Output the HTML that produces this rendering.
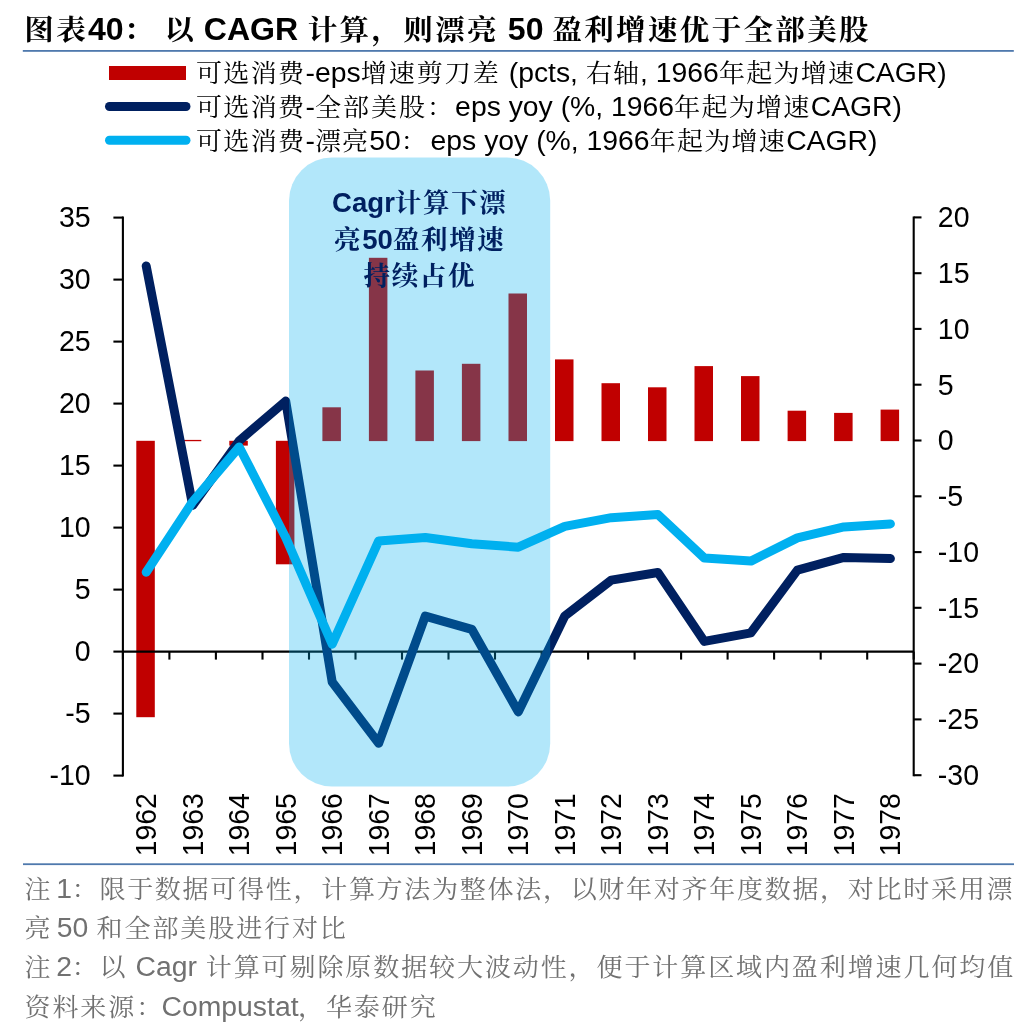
<!DOCTYPE html>
<html lang="zh-CN"><head><meta charset="utf-8"><title>图表40</title>
<style>
html,body{margin:0;padding:0;background:#fff;}
body{width:1036px;height:1036px;overflow:hidden;}
svg{display:block;font-family:"Liberation Sans", "Noto Serif CJK SC", sans-serif;}
</style></head><body>
<svg width="1036" height="1036" viewBox="0 0 1036 1036">
<rect width="1036" height="1036" fill="#fff"/>
<text transform="translate(24.30,39.5) scale(1.048,1)" fill="#000" font-weight="bold" xml:space="preserve"><tspan x="0.00" font-size="28.2" letter-spacing="2.20">图表</tspan><tspan x="60.80" font-size="30.6">40</tspan><tspan x="94.84" font-size="28.2" letter-spacing="2.20">：</tspan><tspan x="125.24" font-size="30.6"> </tspan><tspan x="133.74" font-size="28.2" letter-spacing="2.20">以</tspan><tspan x="162.79" font-size="30.6"> CAGR </tspan><tspan x="270.47" font-size="28.2" letter-spacing="2.20">计算，则漂亮</tspan><tspan x="452.87" font-size="30.6"> 50 </tspan><tspan x="503.91" font-size="28.2" letter-spacing="2.20">盈利增速优于全部美股</tspan></text>
<rect x="22.8" y="50" width="991" height="1.8" fill="#4f79ad"/>
<rect x="109" y="66" width="77" height="14" fill="#c00000"/>
<line x1="109.5" y1="106.5" x2="186" y2="106.5" stroke="#002060" stroke-width="9" stroke-linecap="round"/>
<line x1="109.5" y1="140.3" x2="186" y2="140.3" stroke="#00b0f0" stroke-width="9" stroke-linecap="round"/>
<text transform="translate(195.90,82) scale(1.05,1)" fill="#000" xml:space="preserve"><tspan x="0.00" font-size="24.8" letter-spacing="1.30">可选消费</tspan><tspan x="104.40" font-size="27">-eps</tspan><tspan x="156.92" font-size="24.8" letter-spacing="1.90">增速剪刀差</tspan><tspan x="290.42" font-size="27"> (pcts, </tspan><tspan x="371.44" font-size="24.8" letter-spacing="1.00">右轴</tspan><tspan x="423.04" font-size="27">, 1966</tspan><tspan x="498.10" font-size="24.8" letter-spacing="1.20">年起为增速</tspan><tspan x="628.10" font-size="27">CAGR)</tspan></text>
<text transform="translate(195.90,116) scale(1.05,1)" fill="#000" xml:space="preserve"><tspan x="0.00" font-size="24.8" letter-spacing="1.30">可选消费</tspan><tspan x="104.40" font-size="27">-</tspan><tspan x="113.39" font-size="24.8" letter-spacing="1.90">全部美股：</tspan><tspan x="246.89" font-size="27">eps yoy (%, 1966</tspan><tspan x="455.51" font-size="24.8" letter-spacing="1.20">年起为增速</tspan><tspan x="585.51" font-size="27">CAGR)</tspan></text>
<text transform="translate(195.90,150) scale(1.05,1)" fill="#000" xml:space="preserve"><tspan x="0.00" font-size="24.8" letter-spacing="1.30">可选消费</tspan><tspan x="104.40" font-size="27">-</tspan><tspan x="113.39" font-size="24.8" letter-spacing="1.00">漂亮</tspan><tspan x="164.99" font-size="27">50</tspan><tspan x="195.02" font-size="24.8" letter-spacing="3.70">：</tspan><tspan x="223.52" font-size="27">eps yoy (%, 1966</tspan><tspan x="432.14" font-size="24.8" letter-spacing="1.20">年起为增速</tspan><tspan x="562.14" font-size="27">CAGR)</tspan></text>
<rect x="136.3" y="440.8" width="18.5" height="276.4" fill="#c00000"/>
<rect x="182.8" y="439.9" width="18.5" height="1.3" fill="#c00000"/>
<rect x="229.3" y="440.8" width="18.5" height="4.8" fill="#c00000"/>
<rect x="275.9" y="440.8" width="18.5" height="123.5" fill="#c00000"/>
<rect x="322.4" y="407.3" width="18.5" height="33.8" fill="#c00000"/>
<rect x="368.9" y="257.8" width="18.5" height="183.3" fill="#c00000"/>
<rect x="415.4" y="370.5" width="18.5" height="70.6" fill="#c00000"/>
<rect x="461.9" y="363.8" width="18.5" height="77.3" fill="#c00000"/>
<rect x="508.5" y="293.5" width="18.5" height="147.6" fill="#c00000"/>
<rect x="555.0" y="359.4" width="18.5" height="81.7" fill="#c00000"/>
<rect x="601.5" y="383.2" width="18.5" height="57.9" fill="#c00000"/>
<rect x="648.0" y="387.3" width="18.5" height="53.8" fill="#c00000"/>
<rect x="694.5" y="366.1" width="18.5" height="75.0" fill="#c00000"/>
<rect x="741.0" y="376.1" width="18.5" height="65.0" fill="#c00000"/>
<rect x="787.6" y="410.7" width="18.5" height="30.4" fill="#c00000"/>
<rect x="834.1" y="412.9" width="18.5" height="28.2" fill="#c00000"/>
<rect x="880.6" y="409.6" width="18.5" height="31.5" fill="#c00000"/>
<g stroke="#000" stroke-width="2.1" fill="none">
<line x1="122.9" y1="216.60000000000002" x2="122.9" y2="776.6"/>
<line x1="913.7" y1="216.38" x2="913.7" y2="776.1800000000001"/>
<line x1="113.4" y1="217.6" x2="122.9" y2="217.6"/>
<line x1="113.4" y1="279.6" x2="122.9" y2="279.6"/>
<line x1="113.4" y1="341.6" x2="122.9" y2="341.6"/>
<line x1="113.4" y1="403.6" x2="122.9" y2="403.6"/>
<line x1="113.4" y1="465.6" x2="122.9" y2="465.6"/>
<line x1="113.4" y1="527.6" x2="122.9" y2="527.6"/>
<line x1="113.4" y1="589.6" x2="122.9" y2="589.6"/>
<line x1="113.4" y1="651.6" x2="122.9" y2="651.6"/>
<line x1="113.4" y1="713.6" x2="122.9" y2="713.6"/>
<line x1="113.4" y1="775.6" x2="122.9" y2="775.6"/>
<line x1="913.7" y1="217.4" x2="921.5" y2="217.4"/>
<line x1="913.7" y1="273.2" x2="921.5" y2="273.2"/>
<line x1="913.7" y1="328.9" x2="921.5" y2="328.9"/>
<line x1="913.7" y1="384.7" x2="921.5" y2="384.7"/>
<line x1="913.7" y1="440.5" x2="921.5" y2="440.5"/>
<line x1="913.7" y1="496.3" x2="921.5" y2="496.3"/>
<line x1="913.7" y1="552.1" x2="921.5" y2="552.1"/>
<line x1="913.7" y1="607.8" x2="921.5" y2="607.8"/>
<line x1="913.7" y1="663.6" x2="921.5" y2="663.6"/>
<line x1="913.7" y1="719.4" x2="921.5" y2="719.4"/>
<line x1="913.7" y1="775.2" x2="921.5" y2="775.2"/>
<line x1="122.9" y1="651.6" x2="913.7" y2="651.6"/>
<line x1="122.9" y1="651.6" x2="122.9" y2="659.6"/>
<line x1="169.4" y1="651.6" x2="169.4" y2="659.6"/>
<line x1="215.9" y1="651.6" x2="215.9" y2="659.6"/>
<line x1="262.5" y1="651.6" x2="262.5" y2="659.6"/>
<line x1="309.0" y1="651.6" x2="309.0" y2="659.6"/>
<line x1="355.5" y1="651.6" x2="355.5" y2="659.6"/>
<line x1="402.0" y1="651.6" x2="402.0" y2="659.6"/>
<line x1="448.5" y1="651.6" x2="448.5" y2="659.6"/>
<line x1="495.0" y1="651.6" x2="495.0" y2="659.6"/>
<line x1="541.6" y1="651.6" x2="541.6" y2="659.6"/>
<line x1="588.1" y1="651.6" x2="588.1" y2="659.6"/>
<line x1="634.6" y1="651.6" x2="634.6" y2="659.6"/>
<line x1="681.1" y1="651.6" x2="681.1" y2="659.6"/>
<line x1="727.6" y1="651.6" x2="727.6" y2="659.6"/>
<line x1="774.1" y1="651.6" x2="774.1" y2="659.6"/>
<line x1="820.7" y1="651.6" x2="820.7" y2="659.6"/>
<line x1="867.2" y1="651.6" x2="867.2" y2="659.6"/>
<line x1="913.7" y1="651.6" x2="913.7" y2="659.6"/>
</g>
<polyline points="146.2,266.0 192.7,505.3 239.2,440.8 285.7,401.1 332.2,682.1 378.7,743.2 425.3,616.1 471.8,629.3 518.3,711.9 564.8,616.0 611.3,580.1 657.9,572.5 704.4,641.4 750.9,632.8 797.4,570.1 843.9,557.4 890.4,558.6" fill="none" stroke="#002060" stroke-width="9" stroke-linecap="round" stroke-linejoin="round"/>
<polyline points="146.2,572.2 192.7,501.6 239.2,447.0 285.7,537.5 332.2,644.2 378.7,540.9 425.3,537.5 471.8,543.7 518.3,547.2 564.8,526.4 611.3,517.7 657.9,514.5 704.4,558.1 750.9,561.1 797.4,537.9 843.9,526.9 890.4,523.9" fill="none" stroke="#00b0f0" stroke-width="9" stroke-linecap="round" stroke-linejoin="round"/>
<text transform="translate(90.6,227.4) scale(0.99,1)" font-size="28.8" fill="#000" text-anchor="end">35</text>
<text transform="translate(90.6,289.4) scale(0.99,1)" font-size="28.8" fill="#000" text-anchor="end">30</text>
<text transform="translate(90.6,351.4) scale(0.99,1)" font-size="28.8" fill="#000" text-anchor="end">25</text>
<text transform="translate(90.6,413.4) scale(0.99,1)" font-size="28.8" fill="#000" text-anchor="end">20</text>
<text transform="translate(90.6,475.4) scale(0.99,1)" font-size="28.8" fill="#000" text-anchor="end">15</text>
<text transform="translate(90.6,537.4) scale(0.99,1)" font-size="28.8" fill="#000" text-anchor="end">10</text>
<text transform="translate(90.6,599.4) scale(0.99,1)" font-size="28.8" fill="#000" text-anchor="end">5</text>
<text transform="translate(90.6,661.4) scale(0.99,1)" font-size="28.8" fill="#000" text-anchor="end">0</text>
<text transform="translate(90.6,723.4) scale(0.99,1)" font-size="28.8" fill="#000" text-anchor="end">-5</text>
<text transform="translate(90.6,785.4) scale(0.99,1)" font-size="28.8" fill="#000" text-anchor="end">-10</text>
<text transform="translate(937.8,227.2) scale(0.99,1)" font-size="28.8" fill="#000">20</text>
<text transform="translate(937.8,283.0) scale(0.99,1)" font-size="28.8" fill="#000">15</text>
<text transform="translate(937.8,338.7) scale(0.99,1)" font-size="28.8" fill="#000">10</text>
<text transform="translate(937.8,394.5) scale(0.99,1)" font-size="28.8" fill="#000">5</text>
<text transform="translate(937.8,450.3) scale(0.99,1)" font-size="28.8" fill="#000">0</text>
<text transform="translate(937.8,506.1) scale(0.99,1)" font-size="28.8" fill="#000">-5</text>
<text transform="translate(937.8,561.9) scale(0.99,1)" font-size="28.8" fill="#000">-10</text>
<text transform="translate(937.8,617.6) scale(0.99,1)" font-size="28.8" fill="#000">-15</text>
<text transform="translate(937.8,673.4) scale(0.99,1)" font-size="28.8" fill="#000">-20</text>
<text transform="translate(937.8,729.2) scale(0.99,1)" font-size="28.8" fill="#000">-25</text>
<text transform="translate(937.8,785.0) scale(0.99,1)" font-size="28.8" fill="#000">-30</text>
<text transform="translate(156.0,856.3) scale(1.02,1) rotate(-90)" font-size="28.3" fill="#000">1962</text>
<text transform="translate(202.5,856.3) scale(1.02,1) rotate(-90)" font-size="28.3" fill="#000">1963</text>
<text transform="translate(249.0,856.3) scale(1.02,1) rotate(-90)" font-size="28.3" fill="#000">1964</text>
<text transform="translate(295.5,856.3) scale(1.02,1) rotate(-90)" font-size="28.3" fill="#000">1965</text>
<text transform="translate(342.0,856.3) scale(1.02,1) rotate(-90)" font-size="28.3" fill="#000">1966</text>
<text transform="translate(388.5,856.3) scale(1.02,1) rotate(-90)" font-size="28.3" fill="#000">1967</text>
<text transform="translate(435.1,856.3) scale(1.02,1) rotate(-90)" font-size="28.3" fill="#000">1968</text>
<text transform="translate(481.6,856.3) scale(1.02,1) rotate(-90)" font-size="28.3" fill="#000">1969</text>
<text transform="translate(528.1,856.3) scale(1.02,1) rotate(-90)" font-size="28.3" fill="#000">1970</text>
<text transform="translate(574.6,856.3) scale(1.02,1) rotate(-90)" font-size="28.3" fill="#000">1971</text>
<text transform="translate(621.1,856.3) scale(1.02,1) rotate(-90)" font-size="28.3" fill="#000">1972</text>
<text transform="translate(667.7,856.3) scale(1.02,1) rotate(-90)" font-size="28.3" fill="#000">1973</text>
<text transform="translate(714.2,856.3) scale(1.02,1) rotate(-90)" font-size="28.3" fill="#000">1974</text>
<text transform="translate(760.7,856.3) scale(1.02,1) rotate(-90)" font-size="28.3" fill="#000">1975</text>
<text transform="translate(807.2,856.3) scale(1.02,1) rotate(-90)" font-size="28.3" fill="#000">1976</text>
<text transform="translate(853.7,856.3) scale(1.02,1) rotate(-90)" font-size="28.3" fill="#000">1977</text>
<text transform="translate(900.2,856.3) scale(1.02,1) rotate(-90)" font-size="28.3" fill="#000">1978</text>
<rect x="289.0" y="157.6" width="261.2" height="629" rx="43" ry="43" fill="#00b0f0" fill-opacity="0.3"/>
<text transform="translate(332.12,212.2) scale(1.02,1)" fill="#002060" font-weight="bold" xml:space="preserve"><tspan x="0.00" font-size="27">Cagr</tspan><tspan x="61.51" font-size="26.0" letter-spacing="1.60">计算下漂</tspan></text>
<text transform="translate(334.10,248.6) scale(1.02,1)" fill="#002060" font-weight="bold" xml:space="preserve"><tspan x="0.00" font-size="26.0" letter-spacing="1.60">亮</tspan><tspan x="27.60" font-size="27">50</tspan><tspan x="57.63" font-size="26.0" letter-spacing="1.60">盈利增速</tspan></text>
<text transform="translate(363.50,285) scale(1.02,1)" fill="#002060" font-weight="bold" xml:space="preserve"><tspan x="0.00" font-size="26.0" letter-spacing="1.60">持续占优</tspan></text>
<rect x="23" y="863.3" width="991" height="1.8" fill="#4f79ad"/>
<text transform="translate(24.50,897.6) scale(1.05,1)" fill="#717171" xml:space="preserve"><tspan x="0.00" font-size="24.8" letter-spacing="1.80">注</tspan><tspan x="22.67" font-size="27"> 1</tspan><tspan x="44.95" font-size="24.8" letter-spacing="1.62">：限于数据可得性，计算方法为整体法，以财年对齐年度数据，对比时采用漂</tspan></text>
<text transform="translate(24.50,936.8) scale(1.05,1)" fill="#717171" xml:space="preserve"><tspan x="0.00" font-size="24.8" letter-spacing="1.80">亮</tspan><tspan x="23.33" font-size="27"> 50 </tspan><tspan x="68.67" font-size="24.8" letter-spacing="1.80">和全部美股进行对比</tspan></text>
<text transform="translate(24.50,976.2) scale(1.05,1)" fill="#717171" xml:space="preserve"><tspan x="0.00" font-size="24.8" letter-spacing="1.80">注</tspan><tspan x="22.67" font-size="27"> 2</tspan><tspan x="44.95" font-size="24.8" letter-spacing="1.80">：以</tspan><tspan x="98.29" font-size="27"> Cagr </tspan><tspan x="172.67" font-size="24.8" letter-spacing="1.80">计算可剔除原数据较大波动性，便于计算区域内盈利增速几何均值</tspan></text>
<text transform="translate(24.50,1015.5) scale(1.05,1)" fill="#717171" xml:space="preserve"><tspan x="0.00" font-size="24.8" letter-spacing="1.80">资料来源：</tspan><tspan x="130.48" font-size="27">Compustat</tspan><tspan x="260.48" font-size="24.8" letter-spacing="1.80">，华泰研究</tspan></text>
</svg>
</body></html>
